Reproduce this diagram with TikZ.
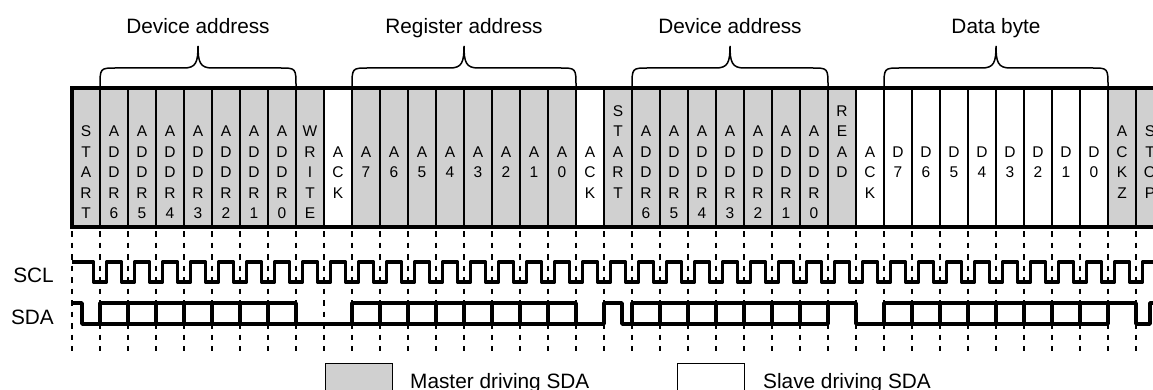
\documentclass[tikz,border=0pt]{standalone}
\usepackage{fontspec}
\setmainfont{Liberation Sans}
\definecolor{mgray}{RGB}{208,208,208}
\begin{document}
\begin{tikzpicture}[x=1pt,y=-1pt,
  cellbox/.style={draw=black, line width=1.6pt, minimum width=28pt, minimum height=139pt, inner sep=0pt, outer sep=0pt},
  letter/.style={font=\fontsize{15.5}{18}\selectfont, inner sep=0pt, anchor=base},
  lbl/.style={font=\fontsize{20.8}{24}\selectfont, inner sep=0pt, anchor=base},
  wave/.style={line width=3.6pt, line join=round},
  gridline/.style={line width=1.3pt, dash pattern=on 5.75pt off 5.75pt},
  bracepath/.style={line width=1.5pt},
  legbox/.style={draw=black, line width=1pt, minimum width=67pt, minimum height=27pt, inner sep=0pt}
]
\useasboundingbox (0,0) rectangle (1153,390);
\clip (0,0) rectangle (1153,390);

% dashed guide lines
\foreach \k in {0,...,38}
  \draw[gridline] ({72+28*\k},231) -- ({72+28*\k},351);

% cells
\foreach \k/\f/\r/\t in {
0/mgray/2/{S,T,A,R,T},
1/mgray/2/{A,D,D,R,6},
2/mgray/2/{A,D,D,R,5},
3/mgray/2/{A,D,D,R,4},
4/mgray/2/{A,D,D,R,3},
5/mgray/2/{A,D,D,R,2},
6/mgray/2/{A,D,D,R,1},
7/mgray/2/{A,D,D,R,0},
8/mgray/2/{W,R,I,T,E},
9/white/3/{A,C,K},
10/mgray/3/{A,7},
11/mgray/3/{A,6},
12/mgray/3/{A,5},
13/mgray/3/{A,4},
14/mgray/3/{A,3},
15/mgray/3/{A,2},
16/mgray/3/{A,1},
17/mgray/3/{A,0},
18/white/3/{A,C,K},
19/mgray/1/{S,T,A,R,T},
20/mgray/2/{A,D,D,R,6},
21/mgray/2/{A,D,D,R,5},
22/mgray/2/{A,D,D,R,4},
23/mgray/2/{A,D,D,R,3},
24/mgray/2/{A,D,D,R,2},
25/mgray/2/{A,D,D,R,1},
26/mgray/2/{A,D,D,R,0},
27/mgray/1/{R,E,A,D},
28/white/3/{A,C,K},
29/white/3/{D,7},
30/white/3/{D,6},
31/white/3/{D,5},
32/white/3/{D,4},
33/white/3/{D,3},
34/white/3/{D,2},
35/white/3/{D,1},
36/white/3/{D,0},
37/mgray/2/{A,C,K,Z},
38/mgray/2/{S,T,O,P}} {
  \node[cellbox, fill=\f] (cell\k) at ({86+28*\k},157.5) {};
  \foreach \l [count=\i] in \t {
    \node[letter] (t\k-\i) at ({86+28*\k},{96+20.4*(\r+\i-1)}) {\l};
  }
}

% thick frame
\draw[line width=4pt, line join=miter] (cell38.north east) -- (cell0.north west) -- (cell0.south west) -- (cell38.south east);

% braces and labels
\foreach \a/\b/\n/\txt in {100/296/b1/Device address, 352/576/b2/Register address, 632/828/b3/Device address, 884/1108/b4/Data byte} {
  \pgfmathsetmacro\m{(\a+\b)/2}
  \draw[bracepath] (\a,87) .. controls (\a,68) .. (\a+16,68) -- (\m-14,68)
     .. controls (\m-2,68) and (\m,62) .. (\m,46)
     .. controls (\m,62) and (\m+2,68) .. (\m+14,68) -- (\b-16,68)
     .. controls (\b,68) .. (\b,87);
  \node[lbl] (\n) at (\m,33.5) {\txt};
}

% signal names
\node[lbl, anchor=base east] (scl) at (54,282) {SCL};
\node[lbl, anchor=base east] (sda) at (54,324) {SDA};

% SCL
\draw[wave] (72,262) \foreach \k in {1,...,38} {
  -- ({72+28*\k-6.5},262) -- ({72+28*\k-6.5},282) -- ({72+28*\k+6.5},282) -- ({72+28*\k+6.5},262) } -- (1160,262);

% SDA main line
\draw[wave] (72,303) -- (82,303) -- (82,324) -- (604,324) -- (604,303) -- (622,303) -- (622,324)
  -- (828,324) -- (828,303) -- (856,303) -- (856,324) -- (1108,324) -- (1108,303)
  -- (1136,303) -- (1136,324) -- (1150,324) -- (1150,303) -- (1160,303);
% SDA data buses
\foreach \a/\b in {100/296, 352/576, 632/828, 884/1108}
  \draw[wave] (\a,324) -- (\a,303) -- (\b,303) -- (\b,324);
\foreach \s/\e in {1/8, 10/18, 20/27, 29/37}
  \foreach \k in {\s,...,\e}
    \draw[wave] ({72+28*\k},303) -- ({72+28*\k},324);

% legend
\node[legbox, fill=mgray] (mbox) at (358.5,376.5) {};
\node[lbl, anchor=base west] (mtext) at (410,388.5) {Master driving SDA};
\node[legbox, fill=white] (sbox) at (710.5,376.5) {};
\node[lbl, anchor=base west] (stext) at (763,388.5) {Slave driving SDA};
\end{tikzpicture}
\end{document}
